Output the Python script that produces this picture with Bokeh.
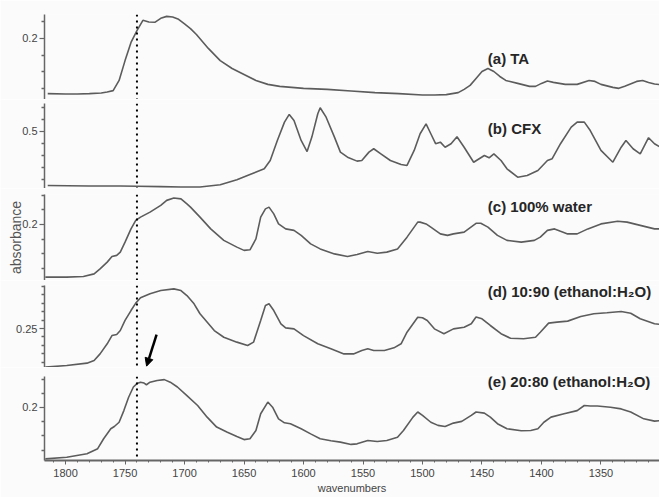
from bokeh.plotting import figure
from bokeh.models import Range1d, FixedTicker, SingleIntervalTicker, Span, Arrow, NormalHead
from bokeh.layouts import column
from bokeh.core.properties import value
from bokeh.embed import file_html
from bokeh.resources import INLINE

# ---------------- data (wavenumber in cm-1, absorbance) ----------------
wn_a = [1815, 1800, 1790, 1780, 1770, 1765, 1760, 1755, 1750, 1745, 1740, 1735, 1730, 1725, 1720, 1715,
        1710, 1705, 1700, 1695, 1690, 1680, 1670, 1660, 1650, 1640, 1630, 1620, 1600, 1580, 1560, 1540,
        1520, 1500, 1490, 1480, 1470, 1465, 1460, 1455, 1450, 1445, 1440, 1435, 1430, 1420, 1410, 1405,
        1400, 1395, 1390, 1380, 1370, 1360, 1355, 1350, 1340, 1335, 1330, 1320, 1315, 1310, 1305, 1300]
abs_a = [0.033, 0.032, 0.032, 0.033, 0.035, 0.038, 0.042, 0.073, 0.133, 0.188, 0.224, 0.255, 0.250, 0.249, 0.261, 0.267,
         0.265, 0.258, 0.244, 0.230, 0.212, 0.170, 0.133, 0.109, 0.091, 0.073, 0.061, 0.055, 0.049, 0.046, 0.041, 0.036,
         0.033, 0.029, 0.029, 0.030, 0.036, 0.046, 0.058, 0.079, 0.100, 0.109, 0.100, 0.085, 0.073, 0.064, 0.055, 0.055,
         0.064, 0.071, 0.067, 0.061, 0.061, 0.073, 0.070, 0.061, 0.052, 0.049, 0.055, 0.070, 0.073, 0.067, 0.062, 0.060]

wn_b = [1815, 1780, 1754, 1740, 1720, 1703, 1687, 1670, 1656, 1645, 1633, 1628, 1622, 1616, 1612, 1608, 1602,
        1597, 1593, 1588, 1586, 1581, 1574, 1569, 1563, 1555, 1551, 1545, 1541, 1535, 1527, 1518, 1513, 1507,
        1502, 1497, 1493, 1489, 1485, 1481, 1476, 1471, 1465, 1457, 1448, 1444, 1440, 1434, 1429, 1420, 1412,
        1403, 1395, 1391, 1384, 1375, 1370, 1364, 1359, 1350, 1340, 1333, 1329, 1323, 1317, 1310, 1305, 1300]
abs_b = [0.050, 0.046, 0.046, 0.044, 0.041, 0.038, 0.038, 0.056, 0.098, 0.142, 0.189, 0.258, 0.425, 0.578, 0.642, 0.592, 0.425,
         0.333, 0.453, 0.648, 0.698, 0.619, 0.453, 0.328, 0.286, 0.253, 0.258, 0.328, 0.356, 0.314, 0.258, 0.225, 0.217, 0.342,
         0.481, 0.563, 0.481, 0.398, 0.411, 0.369, 0.398, 0.456, 0.369, 0.244, 0.300, 0.281, 0.314, 0.258, 0.189, 0.119, 0.133,
         0.175, 0.258, 0.273, 0.398, 0.536, 0.578, 0.578, 0.508, 0.342, 0.244, 0.369, 0.425, 0.356, 0.314, 0.448, 0.398, 0.369]

wn_c = [1817, 1799, 1785, 1776, 1771, 1765, 1761, 1757, 1754, 1750, 1745, 1741, 1737, 1729, 1720, 1715, 1709,
        1703, 1698, 1695, 1687, 1678, 1667, 1656, 1650, 1645, 1640, 1636, 1632, 1629, 1625, 1621, 1615, 1608,
        1602, 1594, 1586, 1574, 1563, 1555, 1546, 1538, 1530, 1521, 1513, 1504, 1502, 1497, 1493, 1485, 1479,
        1474, 1465, 1455, 1451, 1445, 1437, 1429, 1417, 1406, 1401, 1395, 1389, 1384, 1378, 1370, 1361, 1350,
        1336, 1328, 1317, 1305, 1300]
abs_c = [0.021, 0.021, 0.023, 0.032, 0.049, 0.072, 0.091, 0.095, 0.106, 0.140, 0.185, 0.214, 0.225, 0.242, 0.265, 0.282, 0.290,
         0.287, 0.270, 0.259, 0.225, 0.185, 0.146, 0.123, 0.112, 0.114, 0.151, 0.225, 0.253, 0.259, 0.236, 0.202, 0.185, 0.180,
         0.163, 0.134, 0.117, 0.100, 0.091, 0.098, 0.108, 0.102, 0.106, 0.117, 0.157, 0.208, 0.208, 0.202, 0.191, 0.168, 0.163,
         0.168, 0.174, 0.204, 0.204, 0.191, 0.163, 0.146, 0.140, 0.146, 0.157, 0.180, 0.185, 0.177, 0.168, 0.168, 0.185, 0.202,
         0.211, 0.208, 0.197, 0.185, 0.185]

wn_d = [1817, 1799, 1782, 1776, 1771, 1765, 1761, 1757, 1754, 1750, 1745, 1741, 1737, 1729, 1720, 1709, 1703,
        1698, 1692, 1687, 1675, 1667, 1656, 1647, 1642, 1636, 1632, 1629, 1625, 1619, 1615, 1608, 1600, 1588,
        1577, 1566, 1558, 1551, 1546, 1541, 1532, 1524, 1518, 1513, 1504, 1500, 1496, 1490, 1482, 1474, 1465,
        1459, 1455, 1450, 1443, 1434, 1426, 1415, 1405, 1401, 1394, 1387, 1378, 1367, 1356, 1345, 1333, 1325,
        1317, 1305, 1300]
abs_d = [0.020, 0.030, 0.044, 0.060, 0.099, 0.159, 0.208, 0.214, 0.238, 0.298, 0.357, 0.401, 0.433, 0.457, 0.476, 0.486, 0.476,
         0.446, 0.397, 0.338, 0.238, 0.198, 0.169, 0.149, 0.169, 0.298, 0.387, 0.397, 0.357, 0.278, 0.254, 0.248, 0.208, 0.159,
         0.129, 0.099, 0.099, 0.119, 0.129, 0.119, 0.119, 0.135, 0.159, 0.228, 0.317, 0.314, 0.298, 0.248, 0.219, 0.248, 0.258,
         0.278, 0.319, 0.308, 0.268, 0.219, 0.192, 0.189, 0.198, 0.228, 0.282, 0.288, 0.294, 0.321, 0.338, 0.344, 0.351, 0.341,
         0.308, 0.278, 0.274]

wn_e = [1817, 1799, 1782, 1773, 1768, 1762, 1759, 1755, 1751, 1747, 1743, 1740, 1737, 1734, 1732, 1729, 1723,
        1717, 1712, 1706, 1698, 1689, 1681, 1673, 1664, 1656, 1650, 1645, 1640, 1636, 1630, 1626, 1621, 1616,
        1611, 1602, 1594, 1586, 1577, 1569, 1560, 1555, 1546, 1538, 1530, 1521, 1516, 1508, 1504, 1500, 1493,
        1487, 1481, 1474, 1467, 1459, 1455, 1448, 1443, 1437, 1429, 1417, 1409, 1403, 1398, 1392, 1381, 1370,
        1364, 1359, 1353, 1342, 1333, 1325, 1314, 1305, 1300]
abs_e = [0.019, 0.025, 0.037, 0.055, 0.090, 0.125, 0.133, 0.148, 0.189, 0.236, 0.272, 0.284, 0.289, 0.286, 0.280, 0.289, 0.295,
         0.298, 0.289, 0.272, 0.242, 0.207, 0.166, 0.131, 0.113, 0.098, 0.087, 0.090, 0.119, 0.178, 0.219, 0.201, 0.160, 0.146,
         0.143, 0.125, 0.107, 0.090, 0.083, 0.078, 0.070, 0.072, 0.084, 0.080, 0.084, 0.095, 0.119, 0.166, 0.184, 0.172, 0.148,
         0.137, 0.133, 0.145, 0.151, 0.172, 0.184, 0.180, 0.166, 0.143, 0.125, 0.118, 0.119, 0.125, 0.148, 0.166, 0.178, 0.189,
         0.207, 0.205, 0.205, 0.201, 0.195, 0.184, 0.160, 0.152, 0.154]

series_labels = ["(a) TA", "(b) CFX", "(c) 100% water",
                 "(d) 10:90 (ethanol:H\u2082O)", "(e) 20:80 (ethanol:H\u2082O)"]
major_ticks = [[0.2], [0.5], [0.2], [0.25], [0.2]]
minor_ticks = [[0.05, 0.1, 0.15, 0.25],
               [0.1, 0.2, 0.3, 0.4, 0.6, 0.7],
               [0.05, 0.1, 0.15, 0.25, 0.3],
               [0.05, 0.1, 0.15, 0.2, 0.3, 0.35, 0.4, 0.45, 0.5],
               [0.05, 0.1, 0.15, 0.25, 0.3]]
marked_wavenumber = 1740

# ---------------- layout / style ----------------
y_lims = [(0.0152, 0.2727), (0.025, 0.733), (0.0095, 0.302), (0.018, 0.506), (0.0134, 0.309)]
tops = [14, 4, 6, 5, 9]
frames = [85, 85, 86, 82, 84]
label_y = [0.139, 0.525, 0.261, 0.470, 0.2915]
label_x = 1445.1
BG = "#fbfbfb"
AX = "#666666"
LINE = "#5c5c5c"
TICK_FONT = "'Liberation Sans Narrow', 'Liberation Sans', sans-serif"

xr = Range1d(1817.7, 1300.8)
series = [(wn_a, abs_a), (wn_b, abs_b), (wn_c, abs_c), (wn_d, abs_d), (wn_e, abs_e)]

figs = []
for i, (wn, ab) in enumerate(series):
    last = i == 4
    bottom = 37 if last else 0
    p = figure(width=659, height=tops[i] + frames[i] + bottom, x_range=xr,
               y_range=Range1d(*y_lims[i]), output_backend="svg", toolbar_location=None,
               x_axis_location="below" if last else None, title=None,
               min_border_left=44, min_border_right=0, min_border_top=tops[i],
               min_border_bottom=bottom, background_fill_color=BG, border_fill_color=BG,
               outline_line_color=None)
    p.grid.visible = False
    ya = p.yaxis[0]
    ya.ticker = FixedTicker(ticks=major_ticks[i], minor_ticks=minor_ticks[i])
    ya.axis_line_color = AX
    ya.axis_line_width = 1.5
    ya.major_tick_line_color = AX
    ya.major_tick_line_width = 1.2
    ya.major_tick_out = 5
    ya.major_tick_in = 0
    ya.minor_tick_line_color = AX
    ya.minor_tick_line_width = 1.5
    ya.minor_tick_out = 3
    ya.minor_tick_in = 0
    ya.major_label_standoff = 2
    ya.major_label_text_font = TICK_FONT
    ya.major_label_text_font_size = "11px"
    ya.major_label_text_color = "#444444"
    if i == 2:
        ya.axis_label = "absorbance"
        ya.axis_label_standoff = -5
        ya.axis_label_text_font = "'Liberation Sans', sans-serif"
        ya.axis_label_text_font_size = "14px"
        ya.axis_label_text_font_style = "normal"
        ya.axis_label_text_color = "#555555"
    if last:
        xa = p.xaxis[0]
        xa.ticker = SingleIntervalTicker(interval=50, num_minor_ticks=5)
        xa.axis_line_color = AX
        xa.axis_line_width = 1.8
        xa.major_tick_line_color = AX
        xa.major_tick_out = 4
        xa.major_tick_in = 0
        xa.minor_tick_line_color = AX
        xa.minor_tick_out = 2
        xa.minor_tick_in = 0
        xa.major_label_standoff = 4
        xa.major_label_text_font = TICK_FONT
        xa.major_label_text_font_size = "11px"
        xa.major_label_text_color = "#444444"
        xa.axis_label = "wavenumbers"
        xa.axis_label_standoff = 2
        xa.axis_label_text_font = TICK_FONT
        xa.axis_label_text_font_size = "11px"
        xa.axis_label_text_font_style = "normal"
        xa.axis_label_text_color = "#444444"

    p.line(wn, ab, line_color=LINE, line_width=1.6)
    p.add_layout(Span(location=marked_wavenumber, dimension="height", line_color="black",
                      line_width=2, line_dash="2 4"))
    p.text(x=[label_x], y=[label_y[i]], text=[series_labels[i]],
           text_font=value("Liberation Sans"), text_font_style="bold", text_font_size="15px",
           text_align="left", text_baseline="middle", text_color="#262626")
    figs.append(p)

# arrow pointing to the shoulder in (e)
figs[3].add_layout(Arrow(end=NormalHead(size=8, fill_color="black", line_color="black"),
                         x_start=1723.5, y_start=0.214, x_end=1731.9, y_end=0.026,
                         line_color="black", line_width=2.5))

layout = column(*figs, spacing=0)
open("out.html", "w").write(file_html(layout, INLINE))
